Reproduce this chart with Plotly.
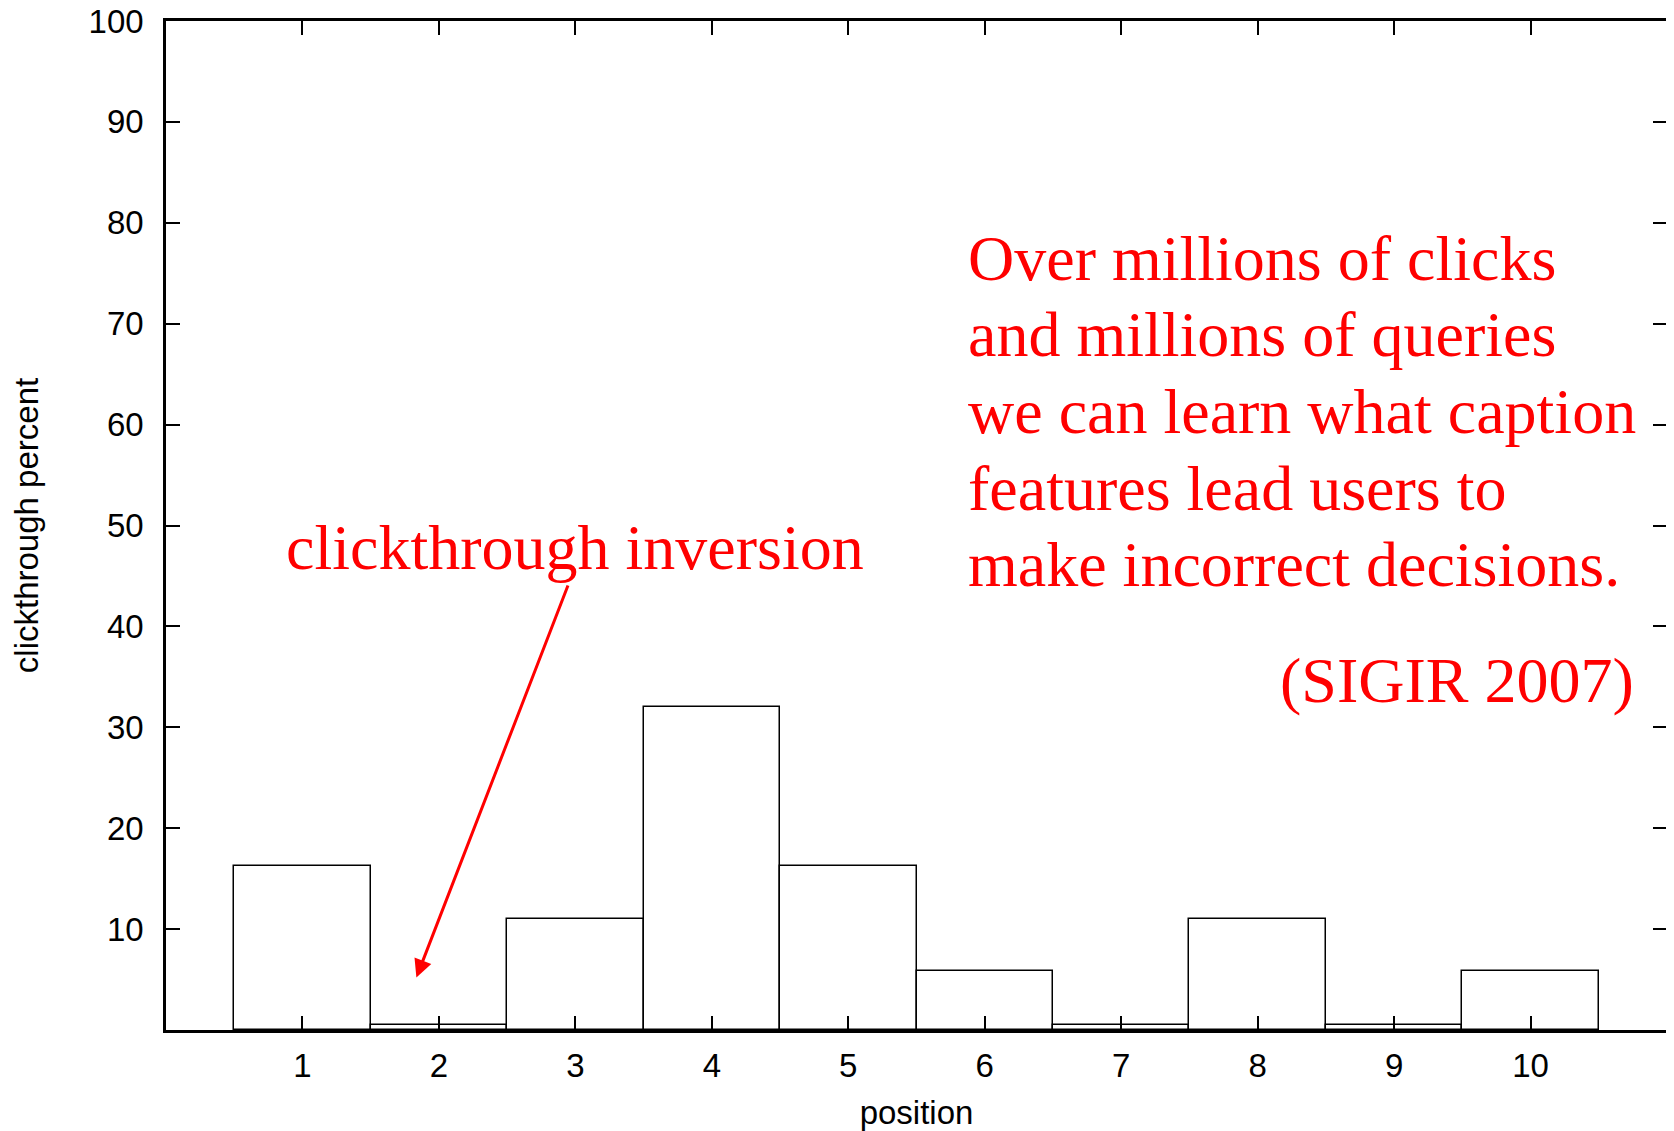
import plotly.graph_objects as go

positions = [1, 2, 3, 4, 5, 6, 7, 8, 9, 10]
clickthrough = [16.3, 0.5, 11.0, 32.0, 16.3, 5.8, 0.5, 11.0, 0.5, 5.8]
y_ticks = [10, 20, 30, 40, 50, 60, 70, 80, 90, 100]

caption_lines = [
    "Over millions of clicks",
    "and millions of queries",
    "we can learn what caption",
    "features lead users to",
    "make incorrect decisions.",
]
citation = "(SIGIR 2007)"
inversion_label = "clickthrough inversion"
arrow_tip = (1.835, 5.2)
arrow_tail = (2.95, 44.2)

fig = go.Figure()
fig.add_trace(go.Bar(
    x=positions, y=clickthrough, width=1.0,
    marker=dict(color="white", line=dict(color="black", width=1.5)),
    showlegend=False,
))

axis_font = dict(family="Liberation Sans, Arial, sans-serif", size=33, color="black")
red_font = dict(family="Liberation Serif, Times New Roman, serif", size=64, color="#ff0000")

# page body has an 8px default margin; size/margins compensate for it
fig.update_layout(
    width=1666, height=1123,
    margin=dict(l=158, r=7, t=13, b=101),
    paper_bgcolor="white", plot_bgcolor="white",
    bargap=0,
    xaxis=dict(
        range=[0, 11], tickvals=positions, ticktext=[str(p) for p in positions],
        ticks="inside", ticklen=14, tickwidth=2, tickcolor="black",
        showline=True, linecolor="black", linewidth=2.5, mirror="ticks",
        showgrid=False, zeroline=False, tickfont=axis_font,
        ticklabelstandoff=5, automargin=False, ticklabeloverflow="allow",
        title=dict(text="position", font=axis_font, standoff=20),
    ),
    yaxis=dict(
        range=[0, 100], tickvals=y_ticks,
        ticks="inside", ticklen=14, tickwidth=2, tickcolor="black",
        showline=True, linecolor="black", linewidth=2.5, mirror="ticks",
        showgrid=False, zeroline=False, tickfont=axis_font,
        ticklabelstandoff=13, automargin=False, ticklabeloverflow="allow",
        title=dict(text="clickthrough percent", font=axis_font, standoff=46),
    ),
)

# caption block
line_y = [76.5, 68.9, 61.3, 53.7, 46.1]
for txt, yv in zip(caption_lines, line_y):
    fig.add_annotation(x=5.86, y=yv, xref="x", yref="y", text=txt, showarrow=False,
                       xanchor="left", yanchor="middle", font=red_font)
fig.add_annotation(x=10.77, y=34.6, xref="x", yref="y", text=citation, showarrow=False,
                   xanchor="right", yanchor="middle", font=red_font)
fig.add_annotation(x=3.0, y=47.8, xref="x", yref="y", text=inversion_label, showarrow=False,
                   xanchor="center", yanchor="middle", font=red_font)
fig.add_annotation(x=arrow_tip[0], y=arrow_tip[1], ax=arrow_tail[0], ay=arrow_tail[1],
                   xref="x", yref="y", axref="x", ayref="y", text="",
                   showarrow=True, arrowhead=2, arrowsize=1.2, arrowwidth=3,
                   arrowcolor="#ff0000")

fig.write_html("out.html")
